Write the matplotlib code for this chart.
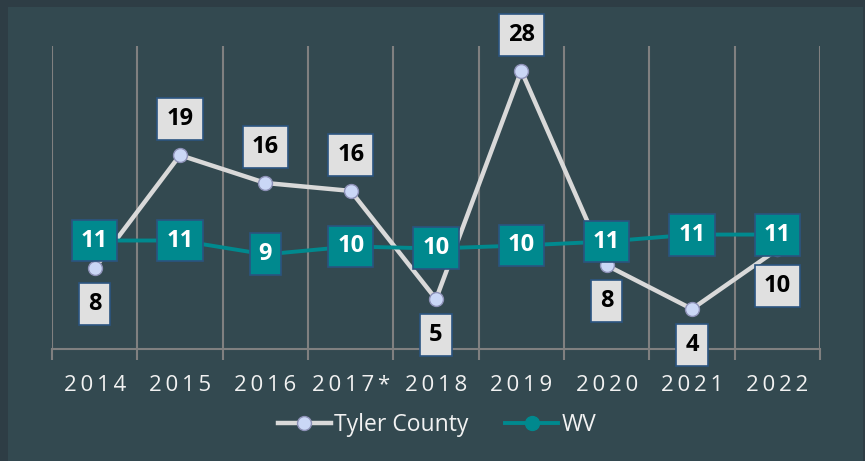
import numpy as np
import matplotlib
matplotlib.use('Agg')
import matplotlib.pyplot as plt
from matplotlib.lines import Line2D
from matplotlib.patches import Rectangle

plt.rcParams['font.family'] = ['Open Sans', 'DejaVu Sans']

# data
years = ['2014', '2015', '2016', '2017*', '2018', '2019', '2020', '2021', '2022']
tyler_vals = [8.1, 19.5, 16.7, 15.9, 5.0, 28.0, 8.4, 4.0, 10.0]
tyler_labels = ['8', '19', '16', '16', '5', '28', '8', '4', '10']
wv_vals = [10.9, 10.9, 9.5, 10.3, 10.1, 10.4, 10.8, 11.5, 11.5]
wv_labels = ['11', '11', '9', '10', '10', '10', '11', '11', '11']

# label above (+1) or below (-1) the point
tyler_side = [-1, 1, 1, 1, -1, 1, -1, -1, -1]

bg_outer = '#2e3d45'
bg_inner = '#334950'
teal = '#00898e'
grey_line = '#d9d9d9'
grid_col = '#808080'
box_edge = '#2b5480'
txt_col = '#f2f2f2'

fig = plt.figure(figsize=(8.65, 4.61), dpi=100)
fig.patch.set_facecolor(bg_outer)
fig.patches.append(Rectangle((8 / 865, 0), 855 / 865, 454 / 461,
                             transform=fig.transFigure, facecolor=bg_inner,
                             edgecolor='none', zorder=-10))

ax = fig.add_axes([52 / 865, (461 - 348.7) / 461, 768 / 865, 302.7 / 461])
ax.set_facecolor('none')

x = np.arange(len(years))

ax.plot(x, tyler_vals, color=grey_line, lw=3.2, zorder=2, solid_capstyle='round')
ax.plot(x, tyler_vals, ls='none', marker='o', ms=10, mfc='#cad7f6',
        mec='#8e92b8', mew=1, zorder=3)
ax.plot(x, wv_vals, color=teal, lw=2.8, zorder=4)

for xi, v, lab, side in zip(x, tyler_vals, tyler_labels, tyler_side):
    ax.annotate(lab, (xi, v), xytext=(0, 26 * side), textcoords='offset points',
                ha='center', va='center', fontsize=17, fontweight='bold',
                color='black', zorder=6,
                bbox=dict(boxstyle='square,pad=0.38', fc='#e0e0e0',
                          ec=box_edge, lw=1.2))

for xi, v, lab in zip(x, wv_vals, wv_labels):
    ax.annotate(lab, (xi, v), xytext=(0, 0), textcoords='offset points',
                ha='center', va='center', fontsize=17, fontweight='bold',
                color='white', zorder=7,
                bbox=dict(boxstyle='square,pad=0.38', fc=teal,
                          ec=box_edge, lw=1.2))

ax.set_xlim(-0.5, len(years) - 0.5)
ax.set_ylim(0, 30.5)

ax.set_xticks(x)
ax.set_xticklabels(['\u2009'.join(y) for y in years], fontsize=16,
                   color=txt_col)
ax.set_xticks(np.arange(-0.5, len(years), 1), minor=True)
ax.tick_params(axis='x', which='major', length=0, pad=19)
ax.tick_params(axis='x', which='minor', length=8, width=1.5, color=grid_col,
               direction='out')
ax.set_yticks([])
ax.grid(axis='x', which='minor', color=grid_col, lw=1.5)
ax.set_axisbelow(True)

for s in ['left', 'right', 'top']:
    ax.spines[s].set_visible(False)
ax.spines['bottom'].set_color(grid_col)
ax.spines['bottom'].set_linewidth(1.5)

handles = [
    Line2D([], [], color=grey_line, lw=3.2, marker='o', ms=10,
           mfc='#cad7f6', mec='#8e92b8'),
    Line2D([], [], color=teal, lw=2.8, marker='o', ms=10, mfc=teal, mec=teal),
]
fig.legend(handles, ['Tyler County', 'WV'], loc='center',
           bbox_to_anchor=(437 / 865, 36 / 461), ncol=2, frameon=False,
           fontsize=16.5, labelcolor=txt_col, handlelength=2.3,
           handletextpad=0.15, columnspacing=1.6)

fig.savefig('out.png', dpi=100, facecolor=fig.get_facecolor())
